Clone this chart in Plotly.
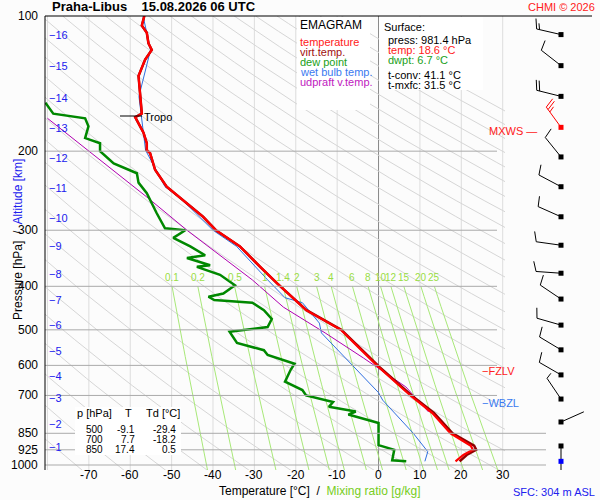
import numpy as np
import plotly.graph_objects as go

# ---------------- data ----------------
temp_p = [100,105,109,115,119,125,136,151,165,168,182,192,199,202,220,240,257,280,300,326,362,387,394,452,500,545,605,700,766,850,906,925,950,981.4]
temp_t = [-56.6,-57.2,-56.0,-55.6,-54.8,-56.4,-58.0,-57.6,-57.2,-58.8,-56.8,-56.0,-56.0,-55.2,-54.0,-51.2,-47.2,-42.4,-39.3,-33.5,-28.6,-25.4,-24.5,-17.5,-9.1,-5.0,0.0,7.7,13.0,17.4,22.3,22.8,20.5,18.6]
virt_t = [-56.6,-57.2,-56.0,-55.6,-54.8,-56.4,-58.0,-57.6,-57.2,-58.8,-56.8,-56.0,-56.0,-55.2,-54.0,-51.2,-47.2,-42.4,-39.3,-33.5,-28.6,-25.4,-24.5,-17.4,-9.0,-4.8,0.2,8.0,13.4,17.9,23.1,23.6,21.3,19.6]
dew_p = [156,165,169,176,187,192,200,213,224,235,248,257,275,297,300,312,326,341,346,359,362,377,398,415,422,429,432,435,452,473,493,500,505,535,555,569,595,613,652,681,700,724,742,760,772,806,850,903,925,976,981.4]
dew_t = [-80.5,-78.6,-70.9,-70.1,-70.9,-67.3,-67.3,-64.0,-58.4,-58.0,-56.0,-55.2,-53.6,-51.6,-46.7,-49.6,-45.5,-41.9,-46.3,-40.7,-43.9,-38.3,-34.7,-37.5,-41.1,-39.7,-34.6,-30.5,-27.7,-25.8,-26.8,-32.3,-36.0,-34.2,-27.7,-26.8,-20.3,-21.2,-22.6,-18.4,-17.5,-11.0,-12.0,-5.5,-7.3,0.0,0.0,0.0,3.8,3.3,6.7]
wb_p = [100,119,151,199,240,257,300,326,387,424,435,483,508,574,647,690,717,780,850,934,981.4]
wb_t = [-56.9,-55.1,-57.9,-56.3,-51.6,-47.4,-40.0,-34.3,-26.8,-22.6,-18.4,-14.3,-13.8,-8.2,-2.7,0.0,1.0,4.7,8.4,11.9,11.2]
parcel_p = [169,218,253,300,387,445,508,578,670,762]
parcel_t = [-80.0,-64.9,-56.0,-46.3,-30.5,-23.0,-12.9,-3.6,6.6,12.1]

km_labels = ["1","2","3","4","5","6","7","8","9","10","11","12","13","14","15","16"]
km_p = [912,811,709,634,557,488,429,376,325,282,242,207,178,152,129,110]

p_ticks = [100,200,300,400,500,600,700,850,925,1000]
t_ticks = [-70,-60,-50,-40,-30,-20,-10,0,10,20,30]
mix_ratios = [0.1,0.2,0.5,1,1.5,2,3,4,6,8,10,12,15,20,25]
mix_labels = ["0.1","0.2","0.5","1","1.4","2","3","4","6","8","10","12","15","20","25"]
theta_list = list(range(200, 520, 10))

barb_p = [110,129,151,177,206,240,280,324,374,427,488,554,630,713,802,907]
barb_dir = [283,308,284,324,321,298,294,278,274,304,286,301,300,326,66,180]
barb_spd = [15,10,20,25,10,10,10,10,10,10,10,10,10,5,2,5]

table_p = ["500","700","850"]
table_T = ["-9.1","7.7","17.4"]
table_Td = ["-29.4","-18.2","0.5"]

# ---------------- geometry ----------------
W, H = 600, 500
ML, MR, MT, MB = 45, 0, 16, 30
PW, PH = W-ML-MR, H-MT-MB
YBOT = 2 + (470-16)/449.0
PPD = 449.0  # pixels per decade
def PX(px): return (px-ML)/PW
def PY(py): return (H-MB-py)/PH
XMAIN = PX(505)
FONT = "Liberation Sans, Arial, sans-serif"

fig = go.Figure()

pp = np.logspace(np.log10(1030), 2, 60)
for th in theta_list:
    tt = th*(pp/1000.0)**0.2857 - 273.15
    fig.add_trace(go.Scatter(x=tt, y=pp, mode="lines", line=dict(color="#d6d6d6", width=1), hoverinfo="skip", showlegend=False))
pm = np.linspace(1030, 400, 30)
def td_of(w, p):
    e = w*p/(622.0+w); a = np.log(e/6.112)
    return 243.5*a/(17.67-a)
for w, lab in zip(mix_ratios, mix_labels):
    fig.add_trace(go.Scatter(x=td_of(w, pm), y=pm, mode="lines", line=dict(color="#a8e878", width=1), hoverinfo="skip", showlegend=False))
    fig.add_annotation(x=float(td_of(w, 400.0)), y=np.log10(400), xref="x", yref="y", text=lab, showarrow=False,
                       yanchor="bottom", yshift=1, font=dict(family=FONT, size=10, color="#99dd44"))

fig.add_trace(go.Scatter(x=parcel_t, y=parcel_p, mode="lines", line=dict(color="#b000b0", width=1), showlegend=False))
fig.add_trace(go.Scatter(x=dew_t, y=dew_p, mode="lines", line=dict(color="#008800", width=2.5), showlegend=False))
fig.add_trace(go.Scatter(x=wb_t, y=wb_p, mode="lines", line=dict(color="#2f6fe0", width=1), showlegend=False))
fig.add_trace(go.Scatter(x=virt_t, y=temp_p, mode="lines", line=dict(color="#900000", width=2.5), showlegend=False))
fig.add_trace(go.Scatter(x=temp_t, y=temp_p, mode="lines", line=dict(color="#ff0000", width=2.2), showlegend=False))

BX = 561
for p, d, s in zip(barb_p, barb_dir, barb_spd):
    col = "#ff0000" if p == 177 else "#000000"
    r = np.radians(d)
    vx, vy = np.sin(r), -np.cos(r)
    L = 25
    xs = [BX, BX+vx*L]; ys = [0, vy*L]
    bx, by = -vy, vx
    rem = s; k = 0
    while rem >= 10:
        sx, sy = BX+vx*(L-3*k), vy*(L-3*k)
        xs += [None, sx, sx+bx*10+vx*3]; ys += [None, sy, sy+by*10+vy*3]
        rem -= 10; k += 1
    if rem >= 5:
        sx, sy = BX+vx*(L-3*k), vy*(L-3*k)
        xs += [None, sx, sx+bx*6+vx*2]; ys += [None, sy, sy+by*6+vy*2]
    yp = [None if v is None else p*10**(v/PPD) for v in ys]
    fig.add_trace(go.Scatter(x=xs, y=yp, xaxis="x2", mode="lines", line=dict(color=col, width=1), showlegend=False, hoverinfo="skip"))
    fig.add_trace(go.Scatter(x=[BX], y=[p], xaxis="x2", mode="markers", marker=dict(color=col, size=5, symbol="square"), showlegend=False))
fig.add_trace(go.Scatter(x=[BX], y=[temp_p[-1]], xaxis="x2", mode="markers", marker=dict(color="#0000ff", size=5, symbol="square"), showlegend=False))

shapes = []
for t in range(-80, 31, 10):
    c = "#888888" if t == 0 else "#dddddd"
    shapes.append(dict(type="line", xref="x", yref="paper", x0=t, x1=t, y0=0, y1=1, line=dict(color=c, width=1), layer="below"))
for p in p_ticks:
    py = 16 + PPD*np.log10(p/100.0)
    xe = 546 if p >= 850 else 497
    if p == 100:
        continue
    shapes.append(dict(type="line", xref="paper", yref="paper", x0=0, x1=PX(xe), y0=PY(py), y1=PY(py), line=dict(color="#aaaaaa", width=1)))
shapes.append(dict(type="line", xref="paper", yref="paper", x0=0, x1=PX(592), y0=1, y1=1, line=dict(color="black", width=1)))
shapes.append(dict(type="line", xref="paper", yref="paper", x0=0, x1=0, y0=0, y1=1, line=dict(color="black", width=1)))
for (x0, y0, x1, y1) in [(297,17,370,110),(379,17,483,90),(75,407,181,455)]:
    shapes.append(dict(type="rect", xref="paper", yref="paper", x0=PX(x0), x1=PX(x1), y0=PY(y1), y1=PY(y0), fillcolor="white", line=dict(width=0), layer="above"))
shapes.append(dict(type="line", xref="paper", yref="paper", x0=PX(120), x1=PX(142), y0=PY(116), y1=PY(116), line=dict(color="black", width=1)))
fig.update_layout(shapes=shapes)

def txt(px, py, s, color="black", size=11, anchor="left", bold=False):
    if bold: s = "<b>"+s+"</b>"
    fig.add_annotation(x=PX(px), y=PY(py), xref="paper", yref="paper", text=s, showarrow=False,
                       xanchor=anchor, yanchor="middle", font=dict(family=FONT, size=size, color=color))

for p in p_ticks:
    py = 16 + PPD*np.log10(p/100.0)
    txt(40, py, str(p), size=12, anchor="right")
for t in t_ticks:
    fig.add_annotation(x=t, y=PY(475), xref="x", yref="paper", text=str(t), showarrow=False, yanchor="middle",
                       font=dict(family=FONT, size=12, color="black"))
for lab, p in zip(km_labels, km_p):
    py = 16 + PPD*np.log10(p/100.0)
    txt(47, py, "−"+lab, color="#2020ee", size=11)

txt(50, 7, "Praha-Libus    15.08.2026 06 UTC", size=13, bold=True)
txt(597, 7, "CHMI © 2026", color="#ff2020", size=11, anchor="right")
txt(298, 25, "EMAGRAM", size=12)
txt(298, 42, "temperature", "#ff2020")
txt(298, 52, "virt.temp.", "#a01010")
txt(298, 62, "dew point", "#20a020")
txt(298, 72, "wet bulb temp.", "#3a7af0")
txt(298, 82, "udpraft v.temp.", "#c020c0")
txt(382, 27, "Surface:")
txt(386, 40, "press: 981.4 hPa")
txt(386, 50, "temp: 18.6 °C", "#ff2020")
txt(386, 60, "dwpt: 6.7 °C", "#20a020")
txt(386, 75, "t-conv: 41.1 °C")
txt(386, 85, "t-mxfc: 31.5 °C")
txt(142, 117, "Tropo", size=11)
txt(487, 131, "MXWS —", "#ff2020")
txt(480, 371, "−FZLV", "#ff2020")
txt(480, 403, "−WBZL", "#3a7af0")
txt(94, 413, "p [hPa]", anchor="center"); txt(128, 413, "T", anchor="center"); txt(163, 413, "Td [°C]", anchor="center")
for i in range(3):
    y = 429 + 10*i
    txt(94, y, table_p[i], anchor="center", size=10); txt(137, y, table_T[i], anchor="right", size=10); txt(178, y, table_Td[i], anchor="right", size=10)
fig.add_annotation(x=PX(320), y=PY(500), xref="paper", yref="paper", showarrow=False, xanchor="center", yanchor="bottom",
                   text="Temperature [°C]  /  <span style='color:#77cc22'>Mixing ratio [g/kg]</span>",
                   font=dict(family=FONT, size=12, color="black"))
fig.add_annotation(x=PX(597), y=PY(500), xref="paper", yref="paper", showarrow=False, xanchor="right", yanchor="bottom",
                   text="SFC: 304 m ASL", font=dict(family=FONT, size=11, color="#2020ee"))
fig.add_annotation(x=PX(9), y=PY(240), xref="paper", yref="paper", showarrow=False, textangle=-90,
                   text="Pressure [hPa]  /  <span style='color:#2020ee'>Altitude [km]</span>",
                   font=dict(family=FONT, size=12, color="black"))

fig.update_layout(
    width=W, height=H, margin=dict(l=ML, r=MR, t=MT, b=MB),
    paper_bgcolor="#fcfcfc", plot_bgcolor="#fcfcfc", showlegend=False,
    xaxis=dict(domain=[0, XMAIN], range=[-80.6, 30.56], showgrid=False, zeroline=False, showticklabels=False),
    xaxis2=dict(domain=[XMAIN, 1], range=[505, 600], showgrid=False, zeroline=False, showticklabels=False, anchor="y"),
    yaxis=dict(type="log", range=[YBOT, 2], showgrid=False, zeroline=False, showticklabels=False),
)
fig.write_html("out.html", config={"displayModeBar": False},
               post_script="document.body.style.margin='0';document.body.style.overflow='hidden';")
